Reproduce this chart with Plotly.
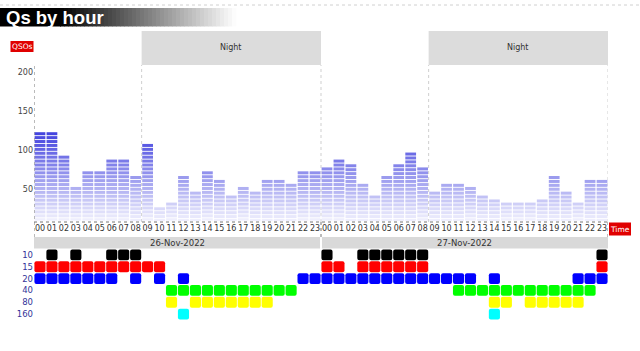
import plotly.graph_objects as go

# ---------------- data ----------------
HOURS = ["00", "01", "02", "03", "04", "05", "06", "07", "08", "09", "10", "11",
         "12", "13", "14", "15", "16", "17", "18", "19", "20", "21", "22", "23"]
DATES = ["26-Nov-2022", "27-Nov-2022"]
QSOS_DAY1 = [123, 123, 93, 53, 73, 73, 88, 88, 67, 108, 27, 33,
             67, 47, 73, 62, 42, 53, 47, 62, 62, 57, 73, 73]
QSOS_DAY2 = [78, 88, 82, 57, 42, 67, 82, 97, 78, 47, 57, 57,
             53, 42, 37, 33, 33, 33, 37, 67, 47, 33, 62, 62]
Y_TICKS = [50, 100, 150, 200]
NIGHT_WINDOWS = [(9, 24), (33, 48)]   # hour index ranges over the two days
NIGHT_LABEL = "Night"

BANDS = ["10", "15", "20", "40", "80", "160"]
BAND_COLORS = ["#000000", "#ff0000", "#0000ff", "#00ff00", "#ffff00", "#00ffff"]
ACTIVE_DAY1 = {
    "10": [1, 3, 6, 7, 8],
    "15": [0, 1, 2, 3, 4, 5, 6, 7, 8, 9, 10],
    "20": [0, 1, 2, 3, 4, 5, 6, 8, 10, 12, 22, 23],
    "40": [11, 12, 13, 14, 15, 16, 17, 18, 19, 20, 21],
    "80": [11, 13, 14, 15, 16, 17, 18, 19],
    "160": [12],
}
ACTIVE_DAY2 = {
    "10": [0, 3, 4, 5, 6, 7, 8, 23],
    "15": [0, 1, 3, 4, 5, 6, 7, 8, 23],
    "20": [0, 1, 2, 3, 4, 5, 6, 7, 8, 9, 10, 11, 12, 14, 21, 22, 23],
    "40": [11, 12, 13, 14, 15, 16, 17, 18, 19, 20, 21, 22],
    "80": [14, 15, 17, 18, 19, 20, 21],
    "160": [14],
}

# ---------------- layout helpers ----------------
W, H = 640, 351
FONT = "DejaVu Sans"


def px(p):
    return p / W


def py(p):
    return 1 - p / H


BASE = 10.0
SEG = 5.0
GAP = 1.15


def seg_color(v):
    t = max(0.0, min(1.0, (v - BASE) / (125 - BASE)))
    r = round(240 - t * (240 - 62))
    b = round(253 - t * (253 - 222))
    return f"rgb({r},{r},{b})"


values = QSOS_DAY1 + QSOS_DAY2
xpos = [i + 0.5 for i in range(len(values))]

fig = go.Figure()

# segmented bars (stacked blocks, coloured by height)
nseg = int(max((v - BASE) // SEG + 1 for v in values))
for k in range(nseg):
    xs, bs, hs, cs = [], [], [], []
    for x, v in zip(xpos, values):
        top = v - SEG * k
        if top <= BASE:
            continue
        bot = max(BASE, top - SEG)
        b = bot + (GAP if bot > BASE else 0)
        if top - b < 0.3:
            continue
        xs.append(x)
        bs.append(b)
        hs.append(top - b)
        cs.append(seg_color((b + top) / 2))
    if xs:
        fig.add_trace(go.Bar(x=xs, y=hs, base=bs, width=0.9,
                             marker=dict(color=cs, line=dict(width=0)),
                             showlegend=False, hoverinfo="skip"))

# band activity grid
for row, (band, col) in enumerate(zip(BANDS, BAND_COLORS)):
    hrs = [h + 0.5 for h in ACTIVE_DAY1[band]] + [24 + h + 0.5 for h in ACTIVE_DAY2[band]]
    fig.add_trace(go.Bar(x=hrs, y=[0.92] * len(hrs), base=[row - 0.46] * len(hrs),
                         width=0.93, yaxis="y2",
                         marker=dict(color=col, line=dict(width=0), cornerradius=2),
                         showlegend=False, hoverinfo="skip"))

shapes = []
annotations = []

# title bar with gradient
g0, g1 = 60, 236
step = 4
shapes.append(dict(type="rect", xref="paper", yref="paper", x0=0, x1=px(g0 + 1),
                   y0=py(26.5), y1=py(8), fillcolor="#000000", line=dict(width=0), layer="below"))
for xx in range(g0, g1, step):
    t = (xx - g0 + step / 2) / (g1 - g0)
    c = round(255 * t)
    shapes.append(dict(type="rect", xref="paper", yref="paper", x0=px(xx), x1=px(xx + step + 0.5),
                       y0=py(26.5), y1=py(8), fillcolor=f"rgb({c},{c},{c})",
                       line=dict(width=0), layer="below"))
annotations.append(dict(text="<b>Qs by hour</b>", xref="paper", yref="paper", x=px(4), y=py(17.5),
                        xanchor="left", yanchor="middle", showarrow=False,
                        font=dict(family="Liberation Sans", size=18.5, color="white")))
# top dotted line
shapes.append(dict(type="line", xref="paper", yref="paper", x0=0, x1=1, y0=py(5), y1=py(5),
                   line=dict(color="#d0d0d0", width=1, dash="dot")))

# night windows
for a, b in NIGHT_WINDOWS:
    shapes.append(dict(type="rect", xref="x", yref="paper", x0=a, x1=b, y0=py(65), y1=py(31),
                       fillcolor="#dcdcdc", line=dict(width=0), layer="below"))
    for xv in (a, b):
        shapes.append(dict(type="line", xref="x", yref="paper", x0=xv, x1=xv, y0=py(222), y1=py(65),
                           line=dict(color="#cfcfcf", width=1, dash="dot"), layer="below"))
    annotations.append(dict(text=NIGHT_LABEL, xref="x", yref="paper", x=(a + b) / 2, y=py(48),
                            showarrow=False, xanchor="center", yanchor="middle",
                            font=dict(family=FONT, size=8, color="#333333")))

# axes lines (dashed)
shapes.append(dict(type="line", xref="x", yref="paper", x0=0, x1=0, y0=py(237), y1=py(65),
                   line=dict(color="#777777", width=1, dash="dot")))
shapes.append(dict(type="line", xref="x", yref="paper", x0=0, x1=48, y0=py(222), y1=py(222),
                   line=dict(color="#777777", width=1, dash="dot")))
shapes.append(dict(type="line", xref="x", yref="paper", x0=24, x1=24, y0=py(237), y1=py(222),
                   line=dict(color="#777777", width=1, dash="dot")))
shapes.append(dict(type="line", xref="x", yref="paper", x0=48, x1=48, y0=py(237), y1=py(222),
                   line=dict(color="#777777", width=1, dash="dot")))

# date bands
for d, label in enumerate(DATES):
    shapes.append(dict(type="rect", xref="x", yref="paper", x0=24 * d + (0.08 if d else 0),
                       x1=24 * (d + 1) - (0.08 if d == 0 else 0), y0=py(248.5), y1=py(237),
                       fillcolor="#d9d9d9", line=dict(width=0), layer="below"))
    annotations.append(dict(text=label, xref="x", yref="paper", x=24 * d + 12, y=py(242.8),
                            showarrow=False, xanchor="center", yanchor="middle",
                            font=dict(family=FONT, size=8.5, color="#333333")))

# QSOs / Time red labels
shapes.append(dict(type="rect", xref="paper", yref="paper", x0=px(10.5), x1=px(33.5),
                   y0=py(52), y1=py(41), fillcolor="#e00000", line=dict(width=0)))
annotations.append(dict(text="QSOs", xref="paper", yref="paper", x=px(22), y=py(46.5),
                        showarrow=False, xanchor="center", yanchor="middle",
                        font=dict(family=FONT, size=7.5, color="white")))
shapes.append(dict(type="rect", xref="paper", yref="paper", x0=px(609), x1=px(631),
                   y0=py(235.5), y1=py(222.5), fillcolor="#e00000", line=dict(width=0)))
annotations.append(dict(text="Time", xref="paper", yref="paper", x=px(620), y=py(229),
                        showarrow=False, xanchor="center", yanchor="middle",
                        font=dict(family=FONT, size=7.5, color="white")))

fig.update_layout(
    width=W, height=H,
    margin=dict(l=0, r=0, t=0, b=0),
    paper_bgcolor="white", plot_bgcolor="rgba(0,0,0,0)",
    barmode="overlay",
    showlegend=False,
    font=dict(family=FONT, size=8, color="#333333"),
    xaxis=dict(domain=[px(34), px(608)], range=[0, 48], anchor="y",
               tickvals=xpos, ticktext=HOURS * 2, ticks="", showgrid=False,
               zeroline=False, showline=False, tickangle=0,
               tickfont=dict(family=FONT, size=8, color="#333333")),
    yaxis=dict(domain=[py(222), py(31)], range=[8.2, 252.4], tickvals=Y_TICKS,
               ticks="", showgrid=False, zeroline=False, showline=False,
               tickfont=dict(family=FONT, size=8, color="#444444")),
    yaxis2=dict(domain=[py(320), py(249)], range=[5.5, -0.5], anchor="x",
                tickvals=list(range(len(BANDS))), ticktext=BANDS, ticks="",
                showgrid=False, zeroline=False, showline=False,
                tickfont=dict(family=FONT, size=8.5, color="#333399")),
    shapes=shapes,
    annotations=annotations,
)

fig.write_html("out.html", config={"displayModeBar": False})
